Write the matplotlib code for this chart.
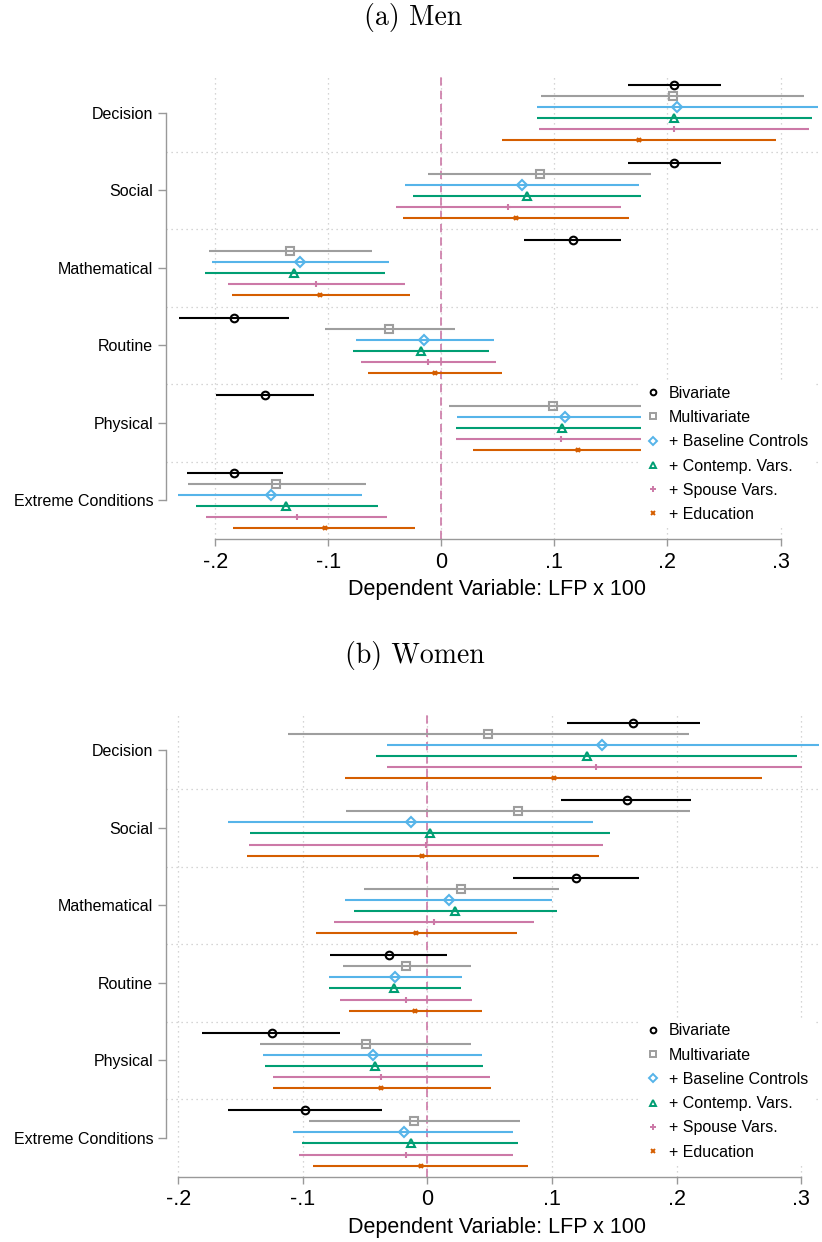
import matplotlib
matplotlib.use("Agg")
import matplotlib.pyplot as plt
from matplotlib.lines import Line2D

plt.rcParams['font.family'] = ['Liberation Sans', 'DejaVu Sans']

# Kategorien (von oben nach unten) und Modelle
categories = ["Decision", "Social", "Mathematical", "Routine", "Physical", "Extreme Conditions"]
series = ["Bivariate", "Multivariate", "+ Baseline Controls", "+ Contemp. Vars.",
          "+ Spouse Vars.", "+ Education"]

# Maenner: Punktschaetzer, untere und obere Grenze (Zeile = Modell, Spalte = Kategorie)
men_coef = [[0.206, 0.206, 0.116, -0.183, -0.156, -0.183],
            [0.205, 0.087, -0.134, -0.046, 0.099, -0.146],
            [0.208, 0.071, -0.125, -0.015, 0.109, -0.151],
            [0.206, 0.076, -0.130, -0.018, 0.107, -0.137],
            [0.206, 0.059, -0.111, -0.012, 0.106, -0.128],
            [0.175, 0.066, -0.107, -0.006, 0.121, -0.103]]
men_lo = [[0.165, 0.165, 0.073, -0.232, -0.199, -0.225],
          [0.088, -0.012, -0.205, -0.103, 0.007, -0.224],
          [0.085, -0.032, -0.203, -0.075, 0.014, -0.233],
          [0.085, -0.025, -0.209, -0.078, 0.013, -0.217],
          [0.086, -0.040, -0.189, -0.071, 0.013, -0.208],
          [0.054, -0.034, -0.185, -0.065, 0.028, -0.184]]
men_hi = [[0.247, 0.247, 0.159, -0.135, -0.113, -0.140],
          [0.321, 0.185, -0.061, 0.012, 0.191, -0.067],
          [0.333, 0.175, -0.046, 0.047, 0.203, -0.070],
          [0.328, 0.177, -0.050, 0.042, 0.200, -0.056],
          [0.325, 0.159, -0.032, 0.048, 0.198, -0.048],
          [0.296, 0.166, -0.028, 0.054, 0.213, -0.023]]

# Frauen
women_coef = [[0.165, 0.160, 0.119, -0.031, -0.125, -0.098],
              [0.049, 0.073, 0.027, -0.017, -0.049, -0.011],
              [0.140, -0.013, 0.017, -0.026, -0.044, -0.019],
              [0.128, 0.002, 0.022, -0.027, -0.042, -0.013],
              [0.135, -0.001, 0.005, -0.017, -0.037, -0.017],
              [0.102, -0.004, -0.009, -0.010, -0.037, -0.005]]
women_lo = [[0.112, 0.107, 0.069, -0.078, -0.181, -0.160],
            [-0.112, -0.065, -0.051, -0.068, -0.134, -0.095],
            [-0.032, -0.160, -0.066, -0.079, -0.132, -0.108],
            [-0.041, -0.142, -0.059, -0.079, -0.130, -0.101],
            [-0.032, -0.143, -0.075, -0.070, -0.124, -0.103],
            [-0.066, -0.145, -0.089, -0.063, -0.124, -0.092]]
women_hi = [[0.219, 0.212, 0.170, 0.016, -0.070, -0.036],
            [0.210, 0.211, 0.106, 0.035, 0.035, 0.074],
            [0.320, 0.133, 0.100, 0.028, 0.044, 0.069],
            [0.297, 0.147, 0.104, 0.027, 0.045, 0.073],
            [0.301, 0.141, 0.086, 0.036, 0.050, 0.069],
            [0.269, 0.138, 0.072, 0.044, 0.051, 0.081]]

xticks = [-0.2, -0.1, 0, 0.1, 0.2, 0.3]
xtick_labels = ["-.2", "-.1", "0", ".1", ".2", ".3"]

colors = ["black", "#9E9E9E", "#56B4E9", "#009E73", "#CC79A7", "#D55E00"]
markers = ["o", "s", "D", "^", "+", "x"]
msizes = [5.5, 5.5, 5.5, 6, 5, 3.5]


def draw_panel(ax, coef, lo, hi, xlim):
    n_cat = len(categories)
    for k in range(len(series)):
        for g in range(n_cat):
            y = (n_cat - 1 - g) + (2.5 - k) / 7.0
            ax.plot([lo[k][g], hi[k][g]], [y, y], color=colors[k], lw=1.5,
                    solid_capstyle='butt', zorder=3)
            ax.plot(coef[k][g], y, marker=markers[k], ms=msizes[k], mfc='none',
                    mec=colors[k], mew=1.5, ls='none', zorder=4)

    # Trennlinien zwischen Gruppen
    for s in range(n_cat - 1):
        ax.axhline(s + 0.5, color='#C8C8C8', ls=(0, (1, 3)), lw=0.9, zorder=1)
    for xt in xticks:
        ax.axvline(xt, color='#C8C8C8', ls=(0, (1, 3)), lw=0.9, zorder=1)
    ax.axvline(0, color='#CC79A7', ls=(0, (5, 3)), lw=1.2, zorder=2)

    ax.set_xlim(*xlim)
    ax.set_ylim(-0.5, n_cat - 0.5)
    ax.set_yticks(range(n_cat - 1, -1, -1))
    ax.set_yticklabels(categories, fontsize=11.5)
    ax.set_xticks(xticks)
    ax.set_xticklabels(xtick_labels, fontsize=15.5)
    ax.tick_params(axis='y', length=6, color='#999999', width=1, pad=3)
    ax.tick_params(axis='x', length=5, color='#999999', width=1, pad=4)

    for sp in ['top', 'right']:
        ax.spines[sp].set_visible(False)
    ax.spines['left'].set_bounds(0, n_cat - 1)
    ax.spines['bottom'].set_bounds(-0.2, 0.3)
    for sp in ['left', 'bottom']:
        ax.spines[sp].set_color('#999999')
        ax.spines[sp].set_linewidth(1)

    handles = [Line2D([], [], marker=markers[k], ms=msizes[k] * 0.75, mfc='none',
                      mec=colors[k], mew=1.4, ls='none') for k in range(len(series))]
    leg = ax.legend(handles, series, loc='upper left', bbox_to_anchor=(0.727, 0.34),
                    frameon=True, fontsize=11.5, handlelength=1.0, handletextpad=0.45,
                    labelspacing=0.58, borderpad=0.3, borderaxespad=0)
    leg.get_frame().set_facecolor('white')
    leg.get_frame().set_edgecolor('none')
    leg.get_frame().set_alpha(1)
    leg.get_frame().set_boxstyle('square', pad=0)


fig = plt.figure(figsize=(8.22, 12.42), dpi=100)

ax1 = fig.add_axes([0.2016, 0.566, 0.7948, 0.3744])
draw_panel(ax1, men_coef, men_lo, men_hi, (-0.2437, 0.334))

ax2 = fig.add_axes([0.2016, 0.0526, 0.7948, 0.3744])
draw_panel(ax2, women_coef, women_lo, women_hi, (-0.21, 0.3144))

fig.text(0.5025, 1 - 18 / 1242, "(a) Men", ha='center', va='center',
         family='cmr10', fontsize=20)
fig.text(0.505, 1 - 656 / 1242, "(b) Women", ha='center', va='center',
         family='cmr10', fontsize=20)
fig.text(497 / 822, 1 - 590 / 1242, "Dependent Variable: LFP x 100",
         ha='center', va='center', fontsize=15.5)
fig.text(497 / 822, 1 - 1228 / 1242, "Dependent Variable: LFP x 100",
         ha='center', va='center', fontsize=15.5)

fig.savefig("out.png", dpi=100)
